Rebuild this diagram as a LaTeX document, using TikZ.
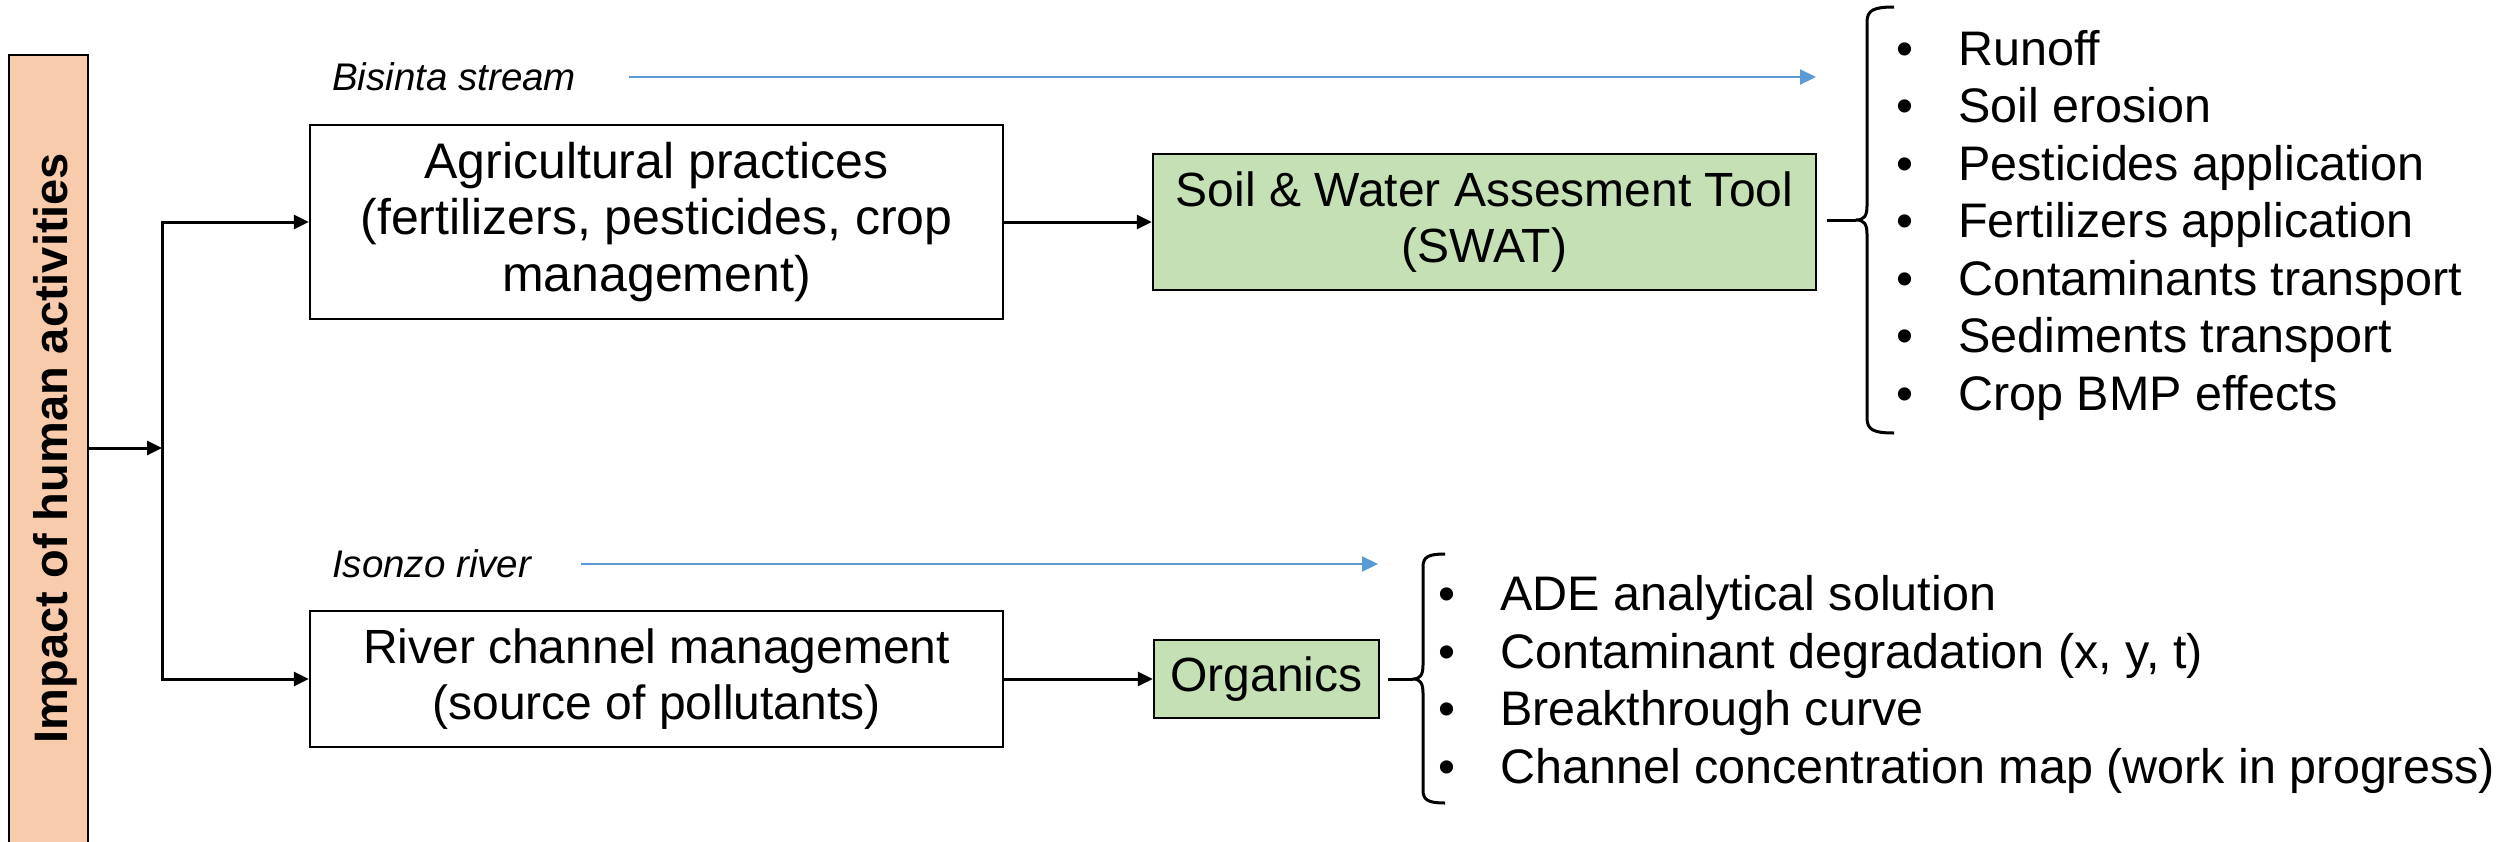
\documentclass[tikz,border=0pt]{standalone}
\usepackage{fontspec}
\setmainfont{Liberation Sans}
\usetikzlibrary{arrows.meta}
\definecolor{boxgreen}{HTML}{C5E0B4}
\definecolor{boxorange}{HTML}{F8CBAD}
\definecolor{streamblue}{HTML}{5B9BD5}
\newcommand{\bxfont}{\fontsize{48}{56.5}\selectfont}
\newcommand{\agfont}{\fontsize{50}{56.5}\selectfont}
\newcommand{\itfnt}{\fontsize{48.5}{57}\selectfont}
\newcommand{\lblfnt}{\fontsize{38.5}{44}\selectfont\itshape}
\newcommand{\impfnt}{\fontsize{47}{52}\selectfont\bfseries}
\begin{document}
\begin{tikzpicture}[x=1pt,y=-1pt,
  box/.style={draw=black,line width=2.5pt,align=center,inner sep=0pt},
  gbox/.style={box,fill=boxgreen},
  conn/.style={line width=3pt},
  arr/.style={conn,-{Triangle[length=15pt,width=14pt]}},
  bluearr/.style={draw=streamblue,line width=2.2pt,-{Triangle[length=16pt,width=15pt]}},
  brc/.style={line width=3pt,line join=round},
  lbl/.style={inner sep=0pt,anchor=base west,font=\lblfnt},
  itm/.style={inner sep=0pt,anchor=base west,font=\itfnt}]
\useasboundingbox (0,0) rectangle (2509,841);
\fill[white] (0,0) rectangle (2509,841);

% left box
\node[box,fill=boxorange,minimum width=79pt,minimum height=795pt] (imp) at (48.5,452.5) {};
\node[rotate=90,anchor=base,inner sep=0pt,font=\impfnt] (imptext) at (67,448) {Impact of human activities};

% main boxes
\node[box,minimum width=693pt,minimum height=194pt,font=\agfont] (agri) at (656.5,222) {Agricultural practices\\(fertilizers, pesticides, crop\\management)};
\node[gbox,minimum width=663pt,minimum height=136pt,font=\bxfont] (swat) at (1484.5,222) {Soil \& Water Assesment Tool\\(SWAT)};
\node[box,minimum width=693pt,minimum height=136pt,font=\bxfont] (river) at (656.5,679) {River channel management\\(source of pollutants)};
\node[gbox,minimum width=225pt,minimum height=78pt,font=\bxfont] (org) at (1266.5,679) {Organics};

% junctions
\coordinate (jm) at (162,448);
\coordinate (jt) at (162,222);
\coordinate (jb) at (162,679);
\draw[arr] (imp.east |- jm) -- (jm);
\draw[conn,line cap=rect] (jt) -- (jb);
\draw[arr] (jt) -- (agri.west);
\draw[arr] (jb) -- (river.west);
\draw[arr] (agri.east) -- (swat.west);
\draw[arr] (river.east) -- (org.west);

% stream labels
\node[lbl] (bis) at (332,90) {Bisinta stream};
\node[lbl] (iso) at (332,577) {Isonzo river};
\coordinate (bisend) at (1816,77);
\coordinate (isoend) at (1378,564);
\draw[bluearr] ([xshift=53pt]bis.east |- bisend) -- (bisend);
\draw[bluearr] ([xshift=50pt]iso.east |- isoend) -- (isoend);

% top brace
\coordinate (tipA) at (1856,220);
\draw[brc] (1894,7) .. controls (1874,7) and (1867,10) .. (1867,22) -- (1867,206)
  .. controls (1867,216) and (1864,220) .. (tipA)
  .. controls (1864,220) and (1867,224) .. (1867,234) -- (1867,418)
  .. controls (1867,430) and (1874,433) .. (1894,433);
\draw[brc] ([xshift=10pt]swat.east |- tipA) -- (tipA);

% bottom brace
\coordinate (tipB) at (1413,679);
\draw[brc] (1445,554) .. controls (1428,554) and (1423,557) .. (1423,567) -- (1423,665)
  .. controls (1423,675) and (1420,679) .. (tipB)
  .. controls (1420,679) and (1423,683) .. (1423,693) -- (1423,790)
  .. controls (1423,800) and (1428,803) .. (1445,803);
\draw[brc] ([xshift=8pt]org.east |- tipB) -- (tipB);

% top list
\node[itm] (t1) at (1896.5,65) {\makebox[61.5pt][l]{•}Runoff};
\node[itm] (t2) at (1896.5,122.5) {\makebox[61.5pt][l]{•}Soil erosion};
\node[itm] (t3) at (1896.5,180) {\makebox[61.5pt][l]{•}Pesticides application};
\node[itm] (t4) at (1896.5,237.5) {\makebox[61.5pt][l]{•}Fertilizers application};
\node[itm] (t5) at (1896.5,295) {\makebox[61.5pt][l]{•}Contaminants transport};
\node[itm] (t6) at (1896.5,352.5) {\makebox[61.5pt][l]{•}Sediments transport};
\node[itm] (t7) at (1896.5,410) {\makebox[61.5pt][l]{•}Crop BMP effects};

% bottom list
\node[itm] (b1) at (1438.5,610) {\makebox[61.5pt][l]{•}ADE analytical solution};
\node[itm] (b2) at (1438.5,668) {\makebox[61.5pt][l]{•}Contaminant degradation (x, y, t)};
\node[itm] (b3) at (1438.5,725.5) {\makebox[61.5pt][l]{•}Breakthrough curve};
\node[itm] (b4) at (1438.5,783) {\makebox[61.5pt][l]{•}Channel concentration map (work in progress)};
\end{tikzpicture}
\end{document}
